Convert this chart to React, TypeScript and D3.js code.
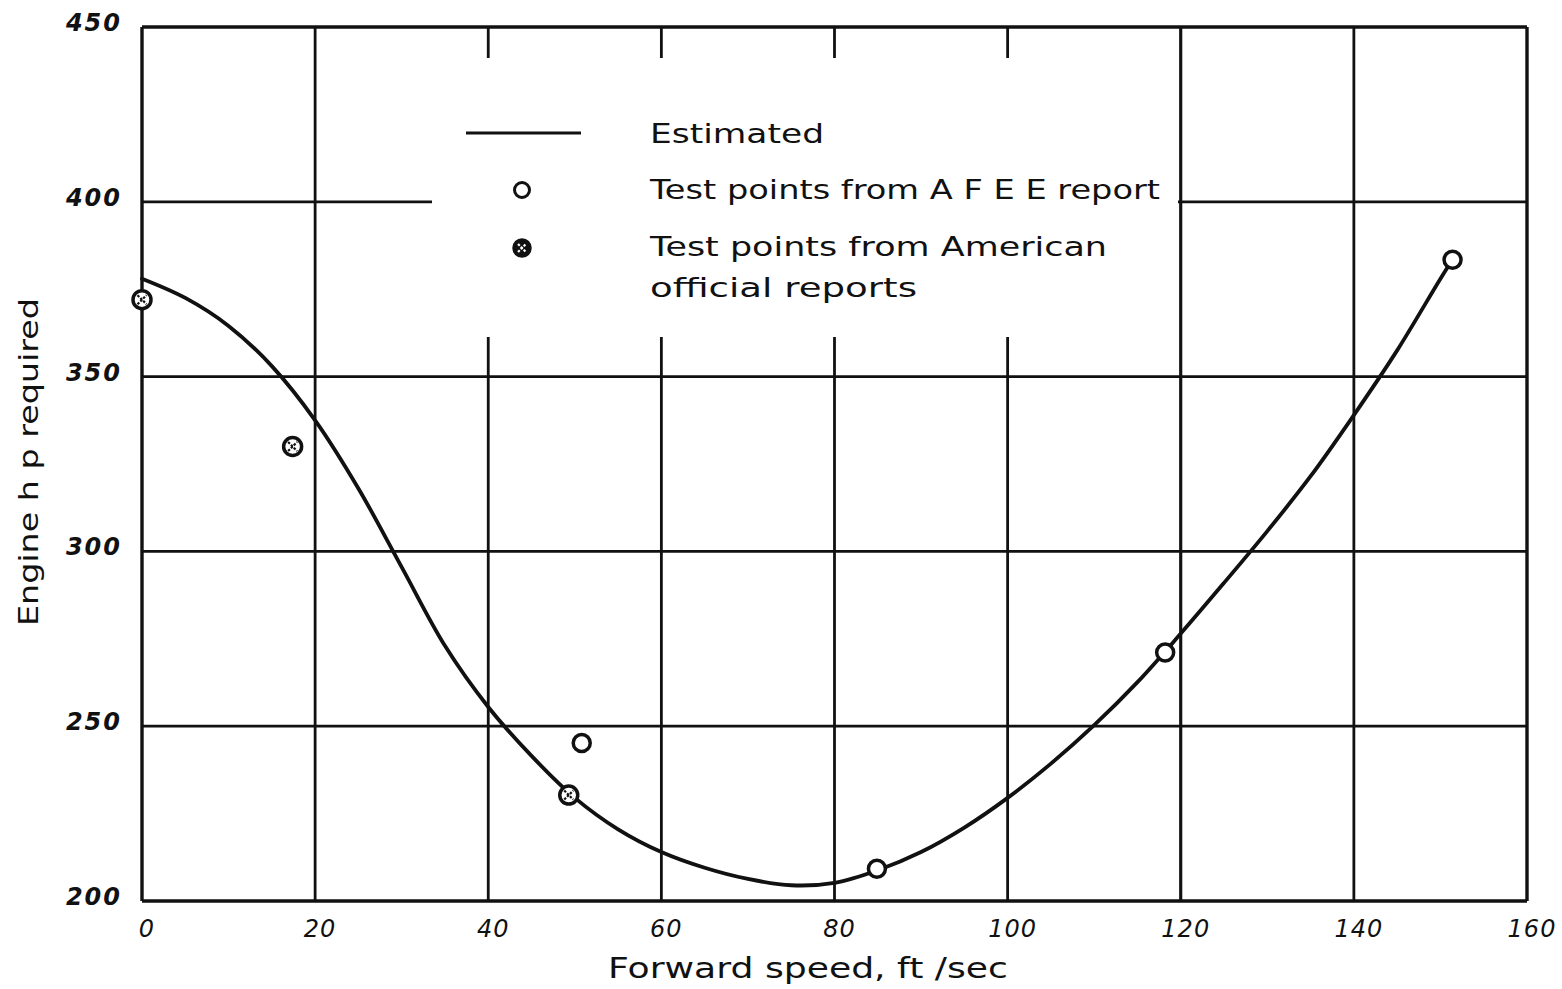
import React from 'react';
import * as d3 from 'd3';

// ---- data ----
const xTicks = [0, 20, 40, 60, 80, 100, 120, 140, 160];
const yTicks = [200, 250, 300, 350, 400, 450];

// Estimated curve (forward speed ft/sec, engine hp)
const curveSpeed = [0, 5, 10, 15, 20, 25, 30, 35, 40, 45, 50, 55, 60, 65, 70, 75, 80, 85, 90, 95, 100, 105, 110, 115, 120, 125, 130, 135, 140, 145, 150, 151.4];
const curveHp = [378, 372.5, 364.5, 353, 337.5, 318, 295.5, 273, 255.5, 241.5, 229.5, 220.5, 214, 209.5, 206.3, 204.5, 205.2, 208.8, 214, 221, 229.5, 239.3, 250.3, 262.6, 276.5, 291, 305.8, 321.5, 339, 357.5, 378, 383.5];

// Test points from AFEE report (open circles)
const afeeSpeed = [50.8, 84.9, 118.2, 151.4];
const afeeHp = [245.2, 209.2, 271.1, 383.4];

// Test points from American official reports (crossed circles)
const usSpeed = [0, 17.4, 49.3];
const usHp = [372, 330, 230.3];

const legendLabels = ['Estimated', 'Test points from A F E E report', 'Test points from American', 'official reports'];

const W = 1562;
const H = 989;
const INK = '#111';
const FONT = '"DejaVu Sans", "Liberation Sans", sans-serif';

export default function App() {
  const x = d3.scaleLinear().domain([0, 160]).range([142, 1527]);
  const y = d3.scaleLinear().domain([200, 450]).range([901, 27]);

  const line = d3
    .line<number>()
    .x((_, i) => x(curveSpeed[i]))
    .y((_, i) => y(curveHp[i]))
    .curve(d3.curveCatmullRom.alpha(0.5));
  const pathD = line(curveHp) || '';

  const crossed = (cx: number, cy: number, r: number, key: string, filled = false) => (
    <g key={key}>
      <circle cx={cx} cy={cy} r={r} fill={filled ? INK : '#fff'} stroke={INK} strokeWidth={3.5} />
      <line x1={cx - r * 0.5} y1={cy - r * 0.5} x2={cx + r * 0.5} y2={cy + r * 0.5} stroke={filled ? '#fff' : INK} strokeWidth={2.2} strokeDasharray="2.5 1.5" />
      <line x1={cx - r * 0.5} y1={cy + r * 0.5} x2={cx + r * 0.5} y2={cy - r * 0.5} stroke={filled ? '#fff' : INK} strokeWidth={2.2} strokeDasharray="2.5 1.5" />
    </g>
  );

  return (
    <svg width={W} height={H} style={{ position: 'absolute', left: 0, top: 0, background: '#fff' }}>
      <rect x={0} y={0} width={W} height={H} fill="#fff" />
      {/* grid */}
      {xTicks.map((t) => (
        <line key={'gx' + t} x1={x(t)} x2={x(t)} y1={y(450)} y2={y(200)} stroke={INK} strokeWidth={t === 0 || t === 160 ? 3.4 : 2.8} />
      ))}
      {yTicks.map((t) => (
        <line key={'gy' + t} x1={x(0)} x2={x(160)} y1={y(t)} y2={y(t)} stroke={INK} strokeWidth={t === 200 || t === 450 ? 3.4 : 2.8} />
      ))}
      {/* legend box (white, covers grid) */}
      <rect x={432} y={58} width={746} height={279} fill="#fff" />
      {/* right edge of legend at 120 gridline */}
      <line x1={x(120)} x2={x(120)} y1={y(450)} y2={y(200)} stroke={INK} strokeWidth={2.8} />

      {/* legend */}
      <line x1={466} x2={581} y1={133} y2={133} stroke={INK} strokeWidth={3} />
      <circle cx={522} cy={190} r={7.5} fill="#fff" stroke={INK} strokeWidth={3} />
      {crossed(522, 248, 8, 'legcross', true)}
      <g fontFamily={FONT} fontSize={27} fill={INK}>
        <text x={650} y={143} textLength={174} lengthAdjust="spacingAndGlyphs">{legendLabels[0]}</text>
        <text x={650} y={199} textLength={510} lengthAdjust="spacingAndGlyphs">{legendLabels[1]}</text>
        <text x={650} y={256} textLength={457} lengthAdjust="spacingAndGlyphs">{legendLabels[2]}</text>
        <text x={650} y={297} textLength={267} lengthAdjust="spacingAndGlyphs">{legendLabels[3]}</text>
      </g>

      {/* curve */}
      <path d={pathD} fill="none" stroke={INK} strokeWidth={3.8} strokeLinejoin="round" strokeLinecap="round" />

      {/* points */}
      {usSpeed.map((s, i) => crossed(x(s), y(usHp[i]), 9, 'us' + i))}
      {afeeSpeed.map((s, i) => (
        <circle key={'af' + i} cx={x(s)} cy={y(afeeHp[i])} r={8.5} fill="#fff" stroke={INK} strokeWidth={3.5} />
      ))}

      {/* y tick labels */}
      <g fontFamily={FONT} fontSize={24} fontWeight="bold" fontStyle="italic" fill={INK} textAnchor="end">
        {yTicks.map((t) => (
          <text key={'yl' + t} x={122} y={y(t) + 4} letterSpacing={2}>
            {t}
          </text>
        ))}
      </g>
      {/* x tick labels */}
      <g fontFamily={FONT} fontSize={24} fontStyle="italic" fill={INK} textAnchor="middle">
        {xTicks.map((t) => (
          <text key={'xl' + t} x={x(t) + 5} y={937} letterSpacing={1}>
            {t}
          </text>
        ))}
      </g>

      {/* axis titles */}
      <text x={808} y={978} fontFamily={FONT} fontSize={29} fill={INK} textAnchor="middle" textLength={400} lengthAdjust="spacingAndGlyphs">
        Forward speed, ft /sec
      </text>
      <text
        transform="translate(38,462) rotate(-90)"
        fontFamily={FONT}
        fontSize={26}
        fill={INK}
        textAnchor="middle"
        textLength={328}
        lengthAdjust="spacingAndGlyphs"
      >
        Engine h p required
      </text>
    </svg>
  );
}
